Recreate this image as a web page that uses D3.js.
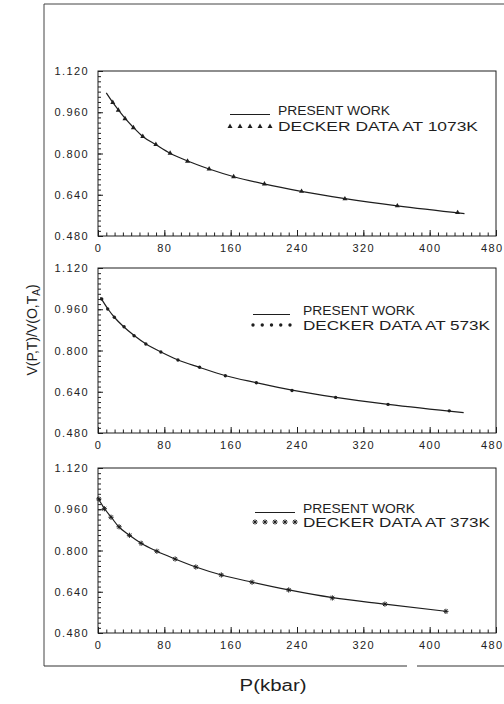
<!DOCTYPE html>
<html>
<head>
<meta charset="utf-8">
<script src="https://cdn.jsdelivr.net/npm/d3@7"></script>
<style>
  html, body { margin: 0; padding: 0; background: #fff; }
  svg { display: block; }
  .tick text { font-family: "Liberation Sans", Arial, sans-serif; font-size: 11px; letter-spacing: 1.4px; fill: #222; }
</style>
</head>
<body>
<svg id="chart" width="504" height="704"></svg>
<script>
// ---------------- data ----------------
const pressureTicks = [0, 80, 160, 240, 320, 400, 480];
const volumeTicks = [0.48, 0.64, 0.80, 0.96, 1.12];
const temperatures = ["1073K", "573K", "373K"];

// Decker data (markers)
const deckerP1073 = [17.8, 24.5, 32.6, 42.7, 54, 69.8, 87, 108, 134, 163.6, 200.7, 245.5, 297.8, 361, 433.7];
const deckerV1073 = [0.998, 0.968, 0.935, 0.900, 0.866, 0.835, 0.801, 0.770, 0.740, 0.710, 0.682, 0.653, 0.624, 0.597, 0.571];
const deckerP573 = [4.5, 11.7, 19.7, 31.4, 43.5, 57.7, 75.8, 96.4, 122.5, 153.6, 191, 234, 286.6, 349.8, 423.6];
const deckerV573 = [1.000, 0.961, 0.929, 0.892, 0.857, 0.825, 0.794, 0.763, 0.735, 0.702, 0.675, 0.645, 0.618, 0.591, 0.566];
const deckerP373 = [1, 7.7, 15.7, 25.4, 37.9, 52, 71, 93, 118, 148.7, 185.8, 230, 282.6, 346, 419.6];
const deckerV373 = [1.000, 0.962, 0.929, 0.892, 0.859, 0.828, 0.797, 0.767, 0.736, 0.705, 0.677, 0.647, 0.616, 0.592, 0.564];

// Present work (solid curves)
const curveP1073 = [10, 18, 25, 33, 43, 54, 70, 87, 108, 134, 164, 200, 245, 298, 361, 442];
const curveV1073 = [1.035, 0.997, 0.967, 0.935, 0.900, 0.866, 0.834, 0.801, 0.771, 0.740, 0.710, 0.682, 0.653, 0.625, 0.597, 0.567];
const curveP573 = [3, 12, 20, 31, 44, 58, 76, 96, 122, 154, 191, 234, 287, 350, 441];
const curveV573 = [1.006, 0.961, 0.928, 0.892, 0.857, 0.825, 0.794, 0.764, 0.735, 0.702, 0.675, 0.646, 0.618, 0.591, 0.559];
const curveP373 = [0, 8, 16, 25, 38, 52, 71, 93, 118, 149, 186, 230, 283, 346, 420];
const curveV373 = [1.003, 0.962, 0.929, 0.892, 0.859, 0.828, 0.797, 0.767, 0.736, 0.705, 0.677, 0.647, 0.617, 0.592, 0.564];

const legendLabels = ["PRESENT WORK", "DECKER DATA AT "];
const xTitle = "P(kbar)";

// ---------------- layout ----------------
const svg = d3.select("#chart");
const ink = "#1e1e1e";
const xLeft = 98, xRight = 496;
const panelTops = [71, 268, 468];
const panelH = 165;
const markerKinds = ["triangle", "circle", "asterisk"];
const legendPos = [
  { lx0: 230, lx1: 270, tx: 278, y1: 110, y2: 126.5, len2: 200 },
  { lx0: 253, lx1: 290, tx: 303, y1: 310, y2: 325, len2: 187 },
  { lx0: 255, lx1: 295, tx: 303, y1: 508, y2: 522, len2: 187 }
];

const datasets = [
  { dp: deckerP1073, dv: deckerV1073, cp: curveP1073, cv: curveV1073 },
  { dp: deckerP573, dv: deckerV573, cp: curveP573, cv: curveV573 },
  { dp: deckerP373, dv: deckerV373, cp: curveP373, cv: curveV373 }
];

// outer frame
svg.append("path").attr("d", "M44,666 V4 H504").attr("fill", "none").attr("stroke", "#444").attr("stroke-width", 1);
svg.append("path").attr("d", "M44,666 H407 M417,666 H504").attr("fill", "none").attr("stroke", "#333").attr("stroke-width", 1.2);

function drawMarker(g, kind, cx, cy) {
  if (kind === "triangle") {
    g.append("path").attr("d", d3.symbol(d3.symbolTriangle, 11)())
      .attr("transform", `translate(${cx},${cy})`).attr("fill", ink);
  } else if (kind === "circle") {
    g.append("path").attr("d", d3.symbol(d3.symbolCircle, 9)())
      .attr("transform", `translate(${cx},${cy})`).attr("fill", ink);
  } else {
    const r = 2.6;
    const p = d3.path();
    p.moveTo(cx - r, cy); p.lineTo(cx + r, cy);
    p.moveTo(cx, cy - r); p.lineTo(cx, cy + r);
    p.moveTo(cx - r * 0.72, cy - r * 0.72); p.lineTo(cx + r * 0.72, cy + r * 0.72);
    p.moveTo(cx - r * 0.72, cy + r * 0.72); p.lineTo(cx + r * 0.72, cy - r * 0.72);
    g.append("path").attr("d", p.toString()).attr("stroke", ink).attr("stroke-width", 1).attr("fill", "none");
  }
}

datasets.forEach((ds, i) => {
  const top = panelTops[i];
  const x = d3.scaleLinear().domain([0, 480]).range([xLeft, xRight]);
  const y = d3.scaleLinear().domain([0.48, 1.12]).range([top + panelH, top]);
  const g = svg.append("g");

  // minor ticks
  const xMinor = g.append("g").attr("transform", `translate(0,${top + panelH})`)
    .call(d3.axisBottom(x).ticks(48).tickSize(-3.5).tickFormat(""));
  xMinor.select(".domain").remove();
  xMinor.selectAll("line").attr("stroke", ink);
  const yMinor = g.append("g").attr("transform", `translate(${xLeft},0)`)
    .call(d3.axisLeft(y).ticks(32).tickSize(-3).tickFormat(""));
  yMinor.select(".domain").remove();
  yMinor.selectAll("line").attr("stroke", ink);

  // major ticks + labels
  const xAx = g.append("g").attr("transform", `translate(0,${top + panelH})`)
    .call(d3.axisBottom(x).tickValues(pressureTicks).tickSize(-6).tickPadding(8).tickFormat(d3.format("d")));
  xAx.select(".domain").remove();
  xAx.selectAll("line").attr("stroke", ink);
  // last label sits against the right edge, keep it inside the page
  xAx.selectAll(".tick").filter(d => d === 480).select("text")
    .attr("text-anchor", "end").attr("x", 504 - xRight - 1);
  const yAx = g.append("g").attr("transform", `translate(${xLeft},0)`)
    .call(d3.axisLeft(y).tickValues(volumeTicks).tickSize(-5).tickPadding(9).tickFormat(d3.format(".3f")));
  yAx.select(".domain").remove();
  yAx.selectAll("line").attr("stroke", ink);

  // frame
  g.append("rect").attr("x", xLeft).attr("y", top).attr("width", xRight - xLeft).attr("height", panelH)
    .attr("fill", "none").attr("stroke", ink).attr("stroke-width", 1);

  // present work curve
  const pts = ds.cp.map((p, k) => [p, ds.cv[k]]);
  g.append("path").datum(pts)
    .attr("d", d3.line().x(d => x(d[0])).y(d => y(d[1])).curve(d3.curveMonotoneX))
    .attr("fill", "none").attr("stroke", ink).attr("stroke-width", 1.2);

  // decker markers
  ds.dp.forEach((p, k) => drawMarker(g, markerKinds[i], x(p), y(ds.dv[k])));

  // legend
  const L = legendPos[i];
  g.append("line").attr("x1", L.lx0).attr("x2", L.lx1).attr("y1", L.y1 + 4.5).attr("y2", L.y1 + 4.5)
    .attr("stroke", ink).attr("stroke-width", 1);
  for (let m = 0; m < 5; m++) {
    drawMarker(g, markerKinds[i], L.lx0 + m * (L.lx1 - L.lx0) / 4, L.y2);
  }
  g.append("text").attr("x", L.tx).attr("y", L.y1 + 4.5)
    .attr("font-family", "Liberation Sans, Arial, sans-serif").attr("font-size", 12.5).attr("fill", ink)
    .attr("textLength", 112).attr("lengthAdjust", "spacingAndGlyphs")
    .text(legendLabels[0]);
  g.append("text").attr("x", L.tx).attr("y", L.y2 + 4.5)
    .attr("font-family", "Liberation Sans, Arial, sans-serif").attr("font-size", 12.5).attr("fill", ink)
    .attr("textLength", L.len2).attr("lengthAdjust", "spacingAndGlyphs")
    .text(legendLabels[1] + temperatures[i]);
});

// axis titles
svg.append("text").attr("x", 273).attr("y", 691).attr("text-anchor", "middle")
  .attr("font-family", "Liberation Sans, Arial, sans-serif").attr("font-size", 16).attr("fill", ink)
  .attr("textLength", 67).attr("lengthAdjust", "spacingAndGlyphs")
  .text(xTitle);

const yt = svg.append("text").attr("transform", "translate(37,330) rotate(-90)").attr("text-anchor", "middle")
  .attr("font-family", "Liberation Sans, Arial, sans-serif").attr("font-size", 14).attr("fill", ink);
yt.append("tspan").text("V(P,T)/V(O,T");
yt.append("tspan").attr("font-size", 10).attr("dy", 3).text("A");
yt.append("tspan").attr("dy", -3).text(")");
</script>
</body>
</html>
